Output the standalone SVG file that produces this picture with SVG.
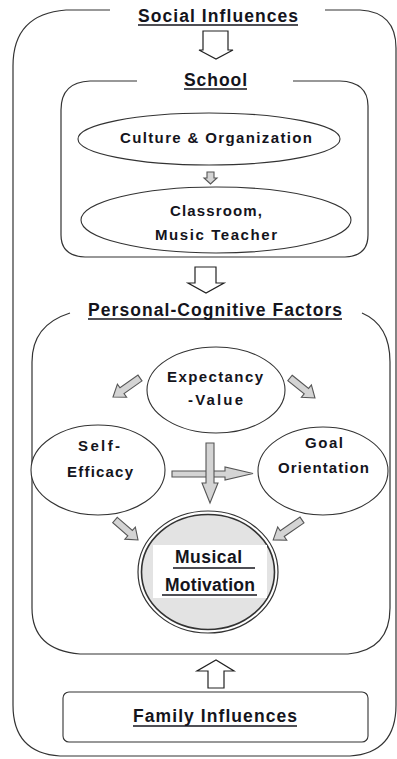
<svg xmlns="http://www.w3.org/2000/svg" width="397" height="759" viewBox="0 0 397 759">
<style>
  .frame{fill:none;stroke:#333;stroke-width:1.2}
  .node{fill:#fff;stroke:#333;stroke-width:1.1}
  .blk{fill:#fff;stroke:#222;stroke-width:1.2;stroke-linejoin:miter}
  .gray{fill:#d4d4d4;stroke:#555;stroke-width:1.1;stroke-linejoin:miter}
  text{font-family:"Liberation Sans",Arial,sans-serif;fill:#14141c;font-weight:bold}
  .h{font-size:17.5px}
  .t{font-size:15px}
  .m{font-size:17.5px}
  .ul{stroke:#14141c;stroke-width:1.3}
</style>
<rect width="397" height="759" fill="#fff"/>

<g id="social-influences">
  <path class="frame" d="M110,10 H66 Q13,14 13,66 V705 Q13,753 60,756 H350 Q396,753 396,705 V48 Q396,12 360,10 H325"/>
  <text class="h" x="138" y="22" textLength="160" lengthAdjust="spacing">Social Influences</text>
  <line class="ul" x1="138" y1="25" x2="298" y2="25"/>
</g>

<g id="school">
  <path class="frame" d="M137,81 H90 Q61,82 61,110 V235 Q61,256 85,257 H345 Q368,256 368,235 V106 Q368,82 340,81 H293"/>
  <text class="h" x="184" y="86" textLength="63" lengthAdjust="spacing">School</text>
  <line class="ul" x1="184" y1="89" x2="247" y2="89"/>
</g>

<g id="culture-organization">
  <ellipse class="node" cx="209" cy="139" rx="131" ry="26"/>
  <text class="t" x="120" y="143" textLength="192" lengthAdjust="spacing">Culture &amp; Organization</text>
</g>

<g id="classroom-music-teacher">
  <ellipse class="node" cx="216" cy="220" rx="135" ry="33"/>
  <text class="t" x="170" y="216" textLength="92" lengthAdjust="spacing">Classroom,</text>
  <text class="t" x="155" y="240" textLength="122" lengthAdjust="spacing">Music Teacher</text>
</g>

<g id="personal-cognitive-factors">
  <path class="frame" d="M70,313 Q32,325 32,362 V608 Q32,650 80,654 H348 Q390,650 390,608 V362 Q390,325 362,313"/>
  <text class="h" x="88" y="316" textLength="254" lengthAdjust="spacing">Personal-Cognitive Factors</text>
  <line class="ul" x1="88" y1="319" x2="342" y2="319"/>
</g>

<g id="expectancy-value">
  <ellipse class="node" cx="216" cy="390" rx="69" ry="43"/>
  <text class="t" x="167" y="382" textLength="96" lengthAdjust="spacing">Expectancy</text>
  <text class="t" x="188" y="405" textLength="55" lengthAdjust="spacing">-Value</text>
</g>

<g id="self-efficacy">
  <ellipse class="node" cx="98" cy="470" rx="67" ry="45"/>
  <text class="t" x="78" y="451" textLength="42" lengthAdjust="spacing">Self-</text>
  <text class="t" x="67" y="477" textLength="66" lengthAdjust="spacing">Efficacy</text>
</g>

<g id="goal-orientation">
  <ellipse class="node" cx="323" cy="471" rx="65" ry="44"/>
  <text class="t" x="305" y="448" textLength="38" lengthAdjust="spacing">Goal</text>
  <text class="t" x="278" y="473" textLength="91" lengthAdjust="spacing">Orientation</text>
</g>

<g id="musical-motivation">
  <ellipse cx="208" cy="572" rx="70" ry="61" fill="#fff" stroke="#333" stroke-width="1.2"/>
  <ellipse cx="208" cy="572" rx="66.5" ry="57.5" fill="#e3e3e3" stroke="#333" stroke-width="1.6"/>
  <rect x="153" y="545" width="114" height="53" fill="#fff"/>
  <text class="m" x="175" y="563" textLength="67" lengthAdjust="spacing">Musical</text>
  <line class="ul" x1="173" y1="568" x2="255" y2="568"/>
  <text class="m" x="165" y="591" textLength="90" lengthAdjust="spacing">Motivation</text>
  <line class="ul" x1="162" y1="595" x2="257" y2="595"/>
</g>

<g id="family-influences">
  <rect class="node" x="63" y="692" width="305" height="50" rx="6"/>
  <text class="h" x="133" y="722" textLength="164" lengthAdjust="spacing">Family Influences</text>
  <line class="ul" x1="133" y1="726" x2="297" y2="726"/>
</g>

<g id="connectors">
  <path class="blk" d="M203,31 H228 V50 H233 L216,59 L199,50 H203 Z"/>
  <path class="gray" d="M207,172 H214 V178 H217 L210.5,184 L204,178 H207 Z"/>
  <path class="blk" d="M195,267 H216 V283 H224 L206,293 L188,283 H195 Z"/>
  <path class="blk" d="M208,688 H224 V671 H234 L216,660 L197,671 H208 Z"/>
  <path class="gray" transform="translate(140,378) rotate(144.9)" d="M0,-3.5 H22 V-8 L33,0 L22,8 V3.5 H0 Z"/>
  <path class="gray" transform="translate(290,378) rotate(38.7)" d="M0,-3.5 H21 V-8 L32,0 L21,8 V3.5 H0 Z"/>
  <path class="gray" transform="translate(115,520) rotate(41)" d="M0,-3.5 H20 V-8 L30.5,0 L20,8 V3.5 H0 Z"/>
  <path class="gray" transform="translate(302,520) rotate(145.4)" d="M0,-3.5 H24 V-8 L35,0 L24,8 V3.5 H0 Z"/>
  <path class="gray" d="M172,471 H225 V467 L253,473.5 L225,480 V477 H172 Z"/>
  <path class="gray" d="M206,443 H214 V483 H218 L210,503 L202,483 H206 Z"/>
</g>
</svg>
